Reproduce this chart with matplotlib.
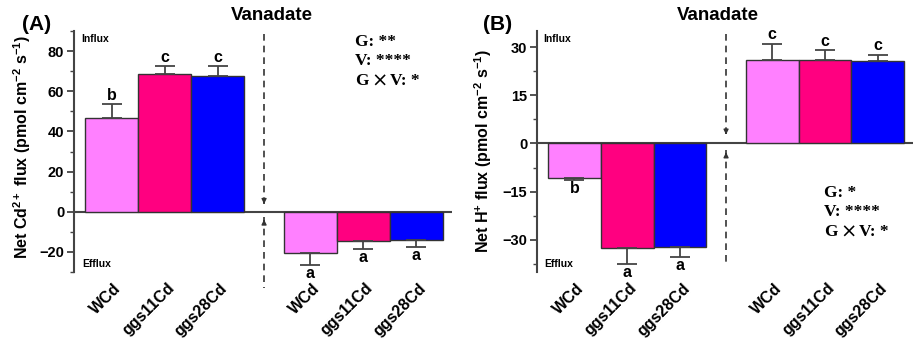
import matplotlib
matplotlib.use("Agg")
import matplotlib.pyplot as plt
from matplotlib.ticker import MultipleLocator
from matplotlib.transforms import ScaledTranslation
import numpy as np

plt.rcParams['font.family'] = ['Liberation Sans', 'DejaVu Sans']
plt.rcParams['font.weight'] = 'bold'
plt.rcParams['mathtext.fontset'] = 'custom'
plt.rcParams['mathtext.rm'] = 'Liberation Sans:bold'
plt.rcParams['mathtext.bf'] = 'Liberation Sans:bold'
plt.rcParams['mathtext.it'] = 'Liberation Sans:bold'

genotypes = ['WCd', 'ggs11Cd', 'ggs28Cd']
colors = ['#FF80FF', '#FF0080', '#0000FF']

# Panel A: Net Cd2+ flux
cd_ctrl = [46.5, 68.5, 67.5]
cd_ctrl_err = [7.0, 4.0, 5.0]
cd_ctrl_letters = ['b', 'c', 'c']
cd_van = [-20.3, -14.5, -14.3]
cd_van_err = [6.2, 3.8, 3.2]
cd_van_letters = ['a', 'a', 'a']

# Panel B: Net H+ flux
h_ctrl = [-10.7, -32.6, -32.1]
h_ctrl_err = [0.7, 4.8, 3.2]
h_ctrl_letters = ['b', 'a', 'a']
h_van = [25.9, 26.1, 25.6]
h_van_err = [5.1, 2.9, 2.0]
h_van_letters = ['c', 'c', 'c']

stats_A = ['G: **', 'V: ****', ('G', 'V: *')]
stats_B = ['G: *', 'V: ****', ('G', 'V: *')]

W, H = 916, 352
fig = plt.figure(figsize=(W / 100, H / 100), dpi=100)

def px(x, y):
    return x / W, 1 - y / H

edge = '#333333'
pos1 = np.array([0, 1, 2])
pos2 = pos1 + 3.75
xdash = 2.875

def panel(rect, ctrl, ctrl_err, ctrl_let, van, van_err, van_let, ylim, major, minor, ylabel,
          dash_top, dash_bot):
    ax = fig.add_axes(rect)
    for pos, vals, errs, lets in [(pos1, ctrl, ctrl_err, ctrl_let), (pos2, van, van_err, van_let)]:
        for p, v, e, l, c in zip(pos, vals, errs, lets, colors):
            ax.bar(p, v, width=1.0, color=c, edgecolor=edge, linewidth=1.0, zorder=2)
            sgn = 1 if v >= 0 else -1
            lo = [0] if sgn > 0 else [e]
            hi = [e] if sgn > 0 else [0]
            ax.errorbar(p, v, yerr=[lo, hi], fmt='none', ecolor='#444444', elinewidth=1.3,
                        capsize=7, capthick=1.3, zorder=3)
            end = v + sgn * e
            ax.annotate(l, (p, end), xytext=(0, 1 * sgn), textcoords='offset points',
                        ha='center', va='bottom' if sgn > 0 else 'top',
                        fontsize=11.5, fontweight='bold', zorder=4)
    ax.set_xlim(-0.71, 6.42)
    ax.set_ylim(*ylim)
    ax.axhline(0, color='#444444', lw=1.5, zorder=1)
    for s in ['top', 'right', 'bottom']:
        ax.spines[s].set_visible(False)
    ax.spines['left'].set_color('#444444')
    ax.spines['left'].set_linewidth(1.5)
    ax.yaxis.set_major_locator(MultipleLocator(major))
    ax.yaxis.set_minor_locator(MultipleLocator(minor))
    ax.tick_params(axis='y', which='major', length=5, width=1.3, color='#444444',
                   labelsize=10.5, pad=2)
    ax.tick_params(axis='y', which='minor', length=3, width=1.0, color='#444444')
    for t in ax.get_yticklabels():
        t.set_fontweight('bold')
    ax.set_xticks(list(pos1) + list(pos2))
    ax.set_xticklabels(genotypes + genotypes, rotation=45, ha='right',
                       rotation_mode='anchor', fontsize=11.5, fontweight='bold')
    ax.tick_params(axis='x', length=0, pad=6)
    off = ScaledTranslation(2 / 100, 0, fig.dpi_scale_trans)
    for t in ax.get_xticklabels():
        t.set_transform(t.get_transform() + off)
    ax.set_ylabel(ylabel, fontsize=11.5, fontweight='bold')
    # dashed separator with arrows pointing to zero
    ax.plot([xdash, xdash], [dash_top[0], dash_top[1]], ls=(0, (4, 3)), color='#333333',
            lw=1.2, clip_on=False)
    ax.plot([xdash, xdash], [dash_bot[0], dash_bot[1]], ls=(0, (4, 3)), color='#333333',
            lw=1.2, clip_on=False)
    ax.annotate('', xy=(xdash, dash_top[1]), xytext=(xdash, dash_top[1] + (ylim[1] - ylim[0]) * 0.03),
                arrowprops=dict(arrowstyle='-|>', color='#333333', lw=1.0, mutation_scale=7))
    ax.annotate('', xy=(xdash, dash_bot[0]), xytext=(xdash, dash_bot[0] - (ylim[1] - ylim[0]) * 0.03),
                arrowprops=dict(arrowstyle='-|>', color='#333333', lw=1.0, mutation_scale=7))
    return ax

axA = panel([74 / W, 1 - 272 / H, 378 / W, 241 / H], cd_ctrl, cd_ctrl_err, cd_ctrl_letters,
            cd_van, cd_van_err, cd_van_letters, (-30, 90), 20, 10,
            'Net $\\mathbf{Cd^{2+}}$ flux (pmol $\\mathbf{cm^{-2}}$ $\\mathbf{s^{-1}}$)',
            (88.5, 2.5), (-2.5, -38))
axA.yaxis.set_label_coords(-0.108, 0.52)

axB = panel([537 / W, 1 - 272 / H, 376 / W, 241 / H], h_ctrl, h_ctrl_err, h_ctrl_letters,
            h_van, h_van_err, h_van_letters, (-40, 35), 15, 7.5,
            'Net $\\mathbf{H^{+}}$ flux (pmol $\\mathbf{cm^{-2}}$ $\\mathbf{s^{-1}}$)',
            (34, 1.9), (-1.9, -38))
axB.yaxis.set_label_coords(-0.115, 0.5)

# titles and panel labels
fig.text(*px(272, 15), 'Vanadate', ha='center', va='center', fontsize=13.5, fontweight='bold')
fig.text(*px(718, 15), 'Vanadate', ha='center', va='center', fontsize=13.5, fontweight='bold')
fig.text(*px(22, 25), '(A)', ha='left', va='center', fontsize=15, fontweight='bold')
fig.text(*px(483, 25), '(B)', ha='left', va='center', fontsize=15, fontweight='bold')

for x0 in (81, 543):
    fig.text(*px(x0, 39), 'Influx', ha='left', va='center', fontsize=7.5, fontweight='bold')
    fig.text(*px(x0 + 1, 264), 'Efflux', ha='left', va='center', fontsize=7.5, fontweight='bold')

serif = ['Liberation Serif', 'DejaVu Serif']
for (x0, ys, lines) in [(355, (42, 61, 81), stats_A), (824, (193, 212, 232), stats_B)]:
    for y, s in zip(ys, lines):
        if isinstance(s, tuple):
            fig.text(*px(x0, y), s[0], ha='left', va='center', fontsize=12.5,
                     fontweight='bold', family=serif)
            fig.text(*px(x0 + 25, y), '\u00d7', ha='center', va='center', fontsize=14,
                     fontweight='normal', family=['DejaVu Sans'])
            fig.text(*px(x0 + 35, y), s[1], ha='left', va='center', fontsize=12.5,
                     fontweight='bold', family=serif)
        else:
            fig.text(*px(x0, y), s, ha='left', va='center', fontsize=12.5, fontweight='bold',
                     family=serif)

fig.savefig('out.png', dpi=100)
